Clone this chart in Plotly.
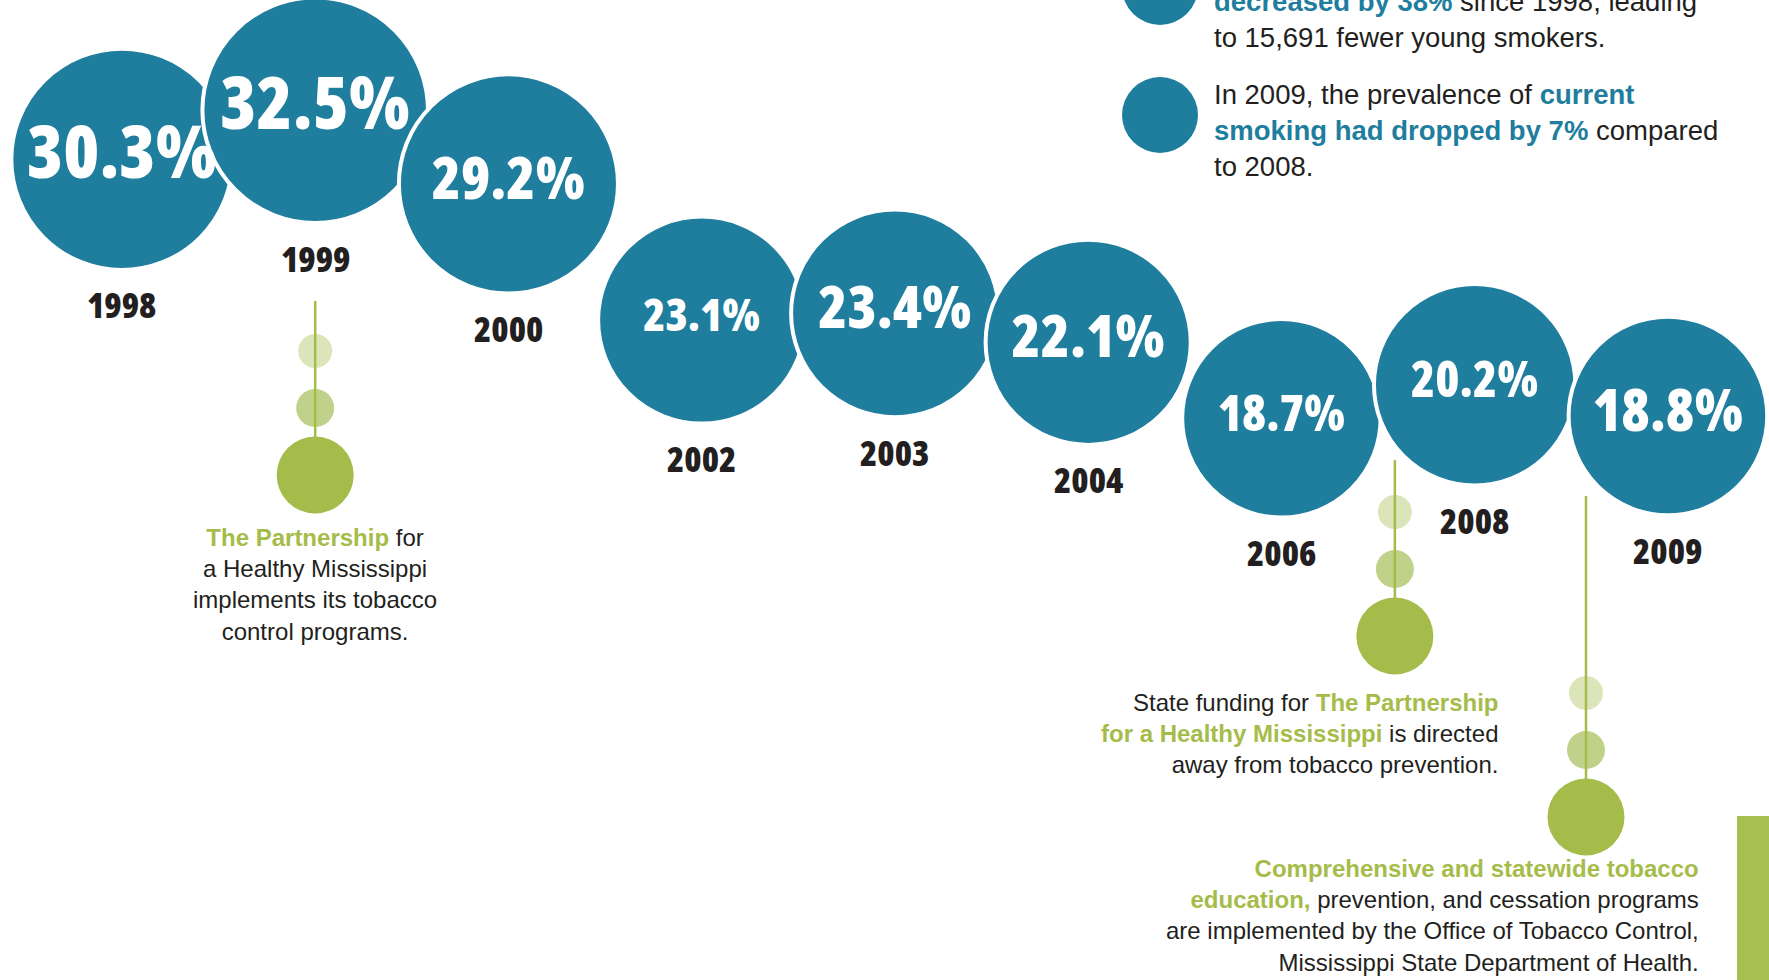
import plotly.graph_objects as go

# ---------------- data ----------------
years = ["1998", "1999", "2000", "2002", "2003", "2004", "2006", "2008", "2009"]
prevalence = [30.3, 32.5, 29.2, 23.1, 23.4, 22.1, 18.7, 20.2, 18.8]

event_texts = [
    "<span style='color:#A5BC4A'><b>The Partnership</b></span> for<br>a Healthy Mississippi<br>"
    "implements its tobacco<br>control programs.",
    "State funding for <span style='color:#A5BC4A'><b>The Partnership</b></span><br>"
    "<span style='color:#A5BC4A'><b>for a Healthy Mississippi</b></span> is directed<br>"
    "away from tobacco prevention.",
    "<span style='color:#A5BC4A'><b>Comprehensive and statewide tobacco</b></span><br>"
    "<span style='color:#A5BC4A'><b>education,</b></span> prevention, and cessation programs<br>"
    "are implemented by the Office of Tobacco Control,<br>Mississippi State Department of Health.",
]
fact_texts = [
    "<span style='color:#1F7E9E'><b>decreased by 38%</b></span> since 1998, leading<br>"
    "to 15,691 fewer young smokers.",
    "In 2009, the prevalence of <span style='color:#1F7E9E'><b>current</b></span><br>"
    "<span style='color:#1F7E9E'><b>smoking had dropped by 7%</b></span> compared<br>to 2008.",
]

# ---------------- style / layout ----------------
W, H = 1769, 980
BLUE = "#1F7E9E"
GREEN = "#A5BC4A"
GREEN_MED = "#C0D189"
GREEN_LIGHT = "#DCE5B9"
INK = "#231F20"
COND = "Open Sans, Roboto Condensed, sans-serif"
BODY = "Liberation Sans, Arial, Helvetica, sans-serif"

label_sizes = [73, 73, 59, 45, 59, 59, 49, 49, 58]
X_RANGE = [-0.631, 8.523]
Y_RANGE = [-6.47, 37.44]

# event pins: (position in category units, big-dot centre y px, line top y px,
#              text anchor dx px, text centre y px, align)
event_layout = [
    (1.0, 475, 301, 0, 584, "center"),
    (6.587, 636, 460, 105, 733, "right"),
    (7.576, 817, 496, 115, 915, "right"),
]
fact_layout = [(1160, -13, 19), (1160, 115, 130)]


def cond(s):
    return f"<span style='font-stretch:condensed'>{s}</span>"


def radius_px(v):
    return 1.128 * (71.7 + 0.87 * v)


def idx_to_px(i):
    return (i - X_RANGE[0]) / (X_RANGE[1] - X_RANGE[0]) * W


def px(x):
    return x / W


def py(y):
    return 1 - y / H


fig = go.Figure()
fig.add_trace(go.Scatter(
    x=years, y=prevalence, mode="markers+text",
    marker=dict(size=[2 * radius_px(v) for v in prevalence], color=BLUE,
                line=dict(color="white", width=4), opacity=1),
    text=[cond(f"{v:.1f}%") for v in prevalence],
    textposition="middle center",
    textfont=dict(family=COND, size=label_sizes, color="white", weight=800),
    hoverinfo="skip", cliponaxis=False, showlegend=False,
))

annotations = []
for i, (yr, v) in enumerate(zip(years, prevalence)):
    annotations.append(dict(
        x=i, y=v, xref="x", yref="y", text=cond(yr), showarrow=False,
        yshift=-(radius_px(v) + 35), yanchor="middle",
        font=dict(family=COND, size=35, color=INK, weight=800),
    ))

shapes = []
for (pos, big_y, top_y, dx, ty, align), txt in zip(event_layout, event_texts):
    cx = idx_to_px(pos)
    for cy, r, col in [(big_y - 124, 17, GREEN_LIGHT), (big_y - 67, 19, GREEN_MED), (big_y, 38.5, GREEN)]:
        shapes.append(dict(type="circle", xref="paper", yref="paper",
                           x0=px(cx - r), x1=px(cx + r), y0=py(cy + r), y1=py(cy - r),
                           fillcolor=col, line=dict(width=0), layer="above"))
    shapes.append(dict(type="line", xref="paper", yref="paper",
                       x0=px(cx), x1=px(cx), y0=py(top_y), y1=py(big_y - 38),
                       line=dict(color=GREEN, width=2.5), layer="above"))
    annotations.append(dict(
        x=px(cx + dx), y=py(ty), xref="paper", yref="paper", text=txt, showarrow=False,
        xanchor="center" if align == "center" else "right", yanchor="middle", align=align,
        font=dict(family=BODY, size=24, color=INK),
    ))

for (cx, cy, ty), txt in zip(fact_layout, fact_texts):
    r = 38
    shapes.append(dict(type="circle", xref="paper", yref="paper",
                       x0=px(cx - r), x1=px(cx + r), y0=py(cy + r), y1=py(cy - r),
                       fillcolor=BLUE, line=dict(width=0)))
    annotations.append(dict(
        x=px(cx + 52), y=py(ty), xref="paper", yref="paper", text=txt, showarrow=False,
        xanchor="left", yanchor="middle", align="left",
        font=dict(family=BODY, size=27.5, color=INK),
    ))

# green side bar
shapes.append(dict(type="rect", xref="paper", yref="paper",
                   x0=px(1737), x1=1, y0=0, y1=py(816),
                   fillcolor="#A8BF52", line=dict(width=0)))

fig.update_layout(
    width=W, height=H, margin=dict(l=0, r=0, t=0, b=0),
    paper_bgcolor="white", plot_bgcolor="white",
    xaxis=dict(type="category", range=X_RANGE, visible=False, showgrid=False, zeroline=False),
    yaxis=dict(range=Y_RANGE, visible=False, showgrid=False, zeroline=False),
    shapes=shapes, annotations=annotations, showlegend=False,
)

fig.write_html("out.html", config={"displayModeBar": False},
               post_script="document.body.style.margin='0';document.body.style.overflow='hidden';")
